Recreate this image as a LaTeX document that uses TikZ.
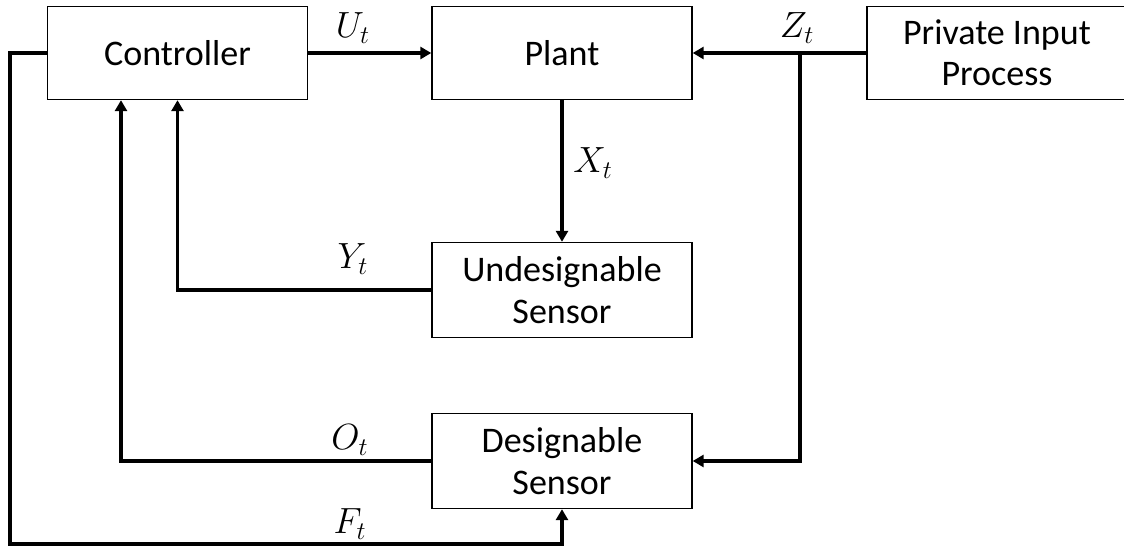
\documentclass[tikz,border=0pt]{standalone}
\usepackage{amsmath,amssymb}
\usepackage{fontspec}
\setmainfont{Carlito}
\usepackage{tikz}
\usetikzlibrary{arrows.meta, positioning}

\begin{document}
\begin{tikzpicture}[
    every node/.style={font=\fontsize{20.5}{23.5}\selectfont},
    block/.style={draw, line width=0.8pt, minimum width=5.2cm, minimum height=1.86cm, align=center, anchor=center},
    wire/.style={line width=1.8pt},
    flow/.style={line width=1.8pt, -{Triangle[length=0.22cm, width=0.24cm]}},
    ]

    \useasboundingbox (0,0) rectangle (22.48,-10.92);

    % Blocks
    \node[block] (ctrl) at (3.55,-1.06) {Controller};
    \node[block] (plant) at (11.24,-1.06) {Plant};
    \node[block] (priv) at (19.94,-1.06) {Private Input\\Process};
    \node[block, minimum height=1.9cm] (usens) at (11.24,-5.80) {Undesignable\\Sensor};
    \node[block, minimum height=1.9cm] (dsens) at (11.24,-9.22) {Designable\\Sensor};

    % Corner points
    \coordinate (zb) at (16.0,-1.06);
    \coordinate (fa) at (0.2,-1.06);
    \coordinate (fb) at (0.2,-10.88);

    % Control input
    \draw[flow] (ctrl.east) -- (plant.west);
    \node (ulab) at (7.06,-0.56) {$U_t$};

    % Private input
    \draw[flow] (priv.west) -- (plant.east);
    \draw[flow] (zb) |- (dsens.east);
    \node (zlab) at (15.94,-0.56) {$Z_t$};

    % State
    \draw[flow] (plant.south) -- (usens.north);
    \node (xlab) at (11.86,-3.26) {$X_t$};

    % Measurements back to the controller
    \draw[flow] (usens.west) -| (ctrl.south);
    \node (ylab) at (7.06,-5.18) {$Y_t$};
    \draw[flow] (dsens.west) -| ([xshift=-1.13cm]ctrl.south);
    \node (olab) at (7.0,-8.8) {$O_t$};

    % Feedback to the designable sensor
    \draw[flow] (ctrl.west) -- (fa) -- (fb) -| (dsens.south);
    \node (flab) at (7.0,-10.48) {$F_t$};

\end{tikzpicture}
\end{document}
